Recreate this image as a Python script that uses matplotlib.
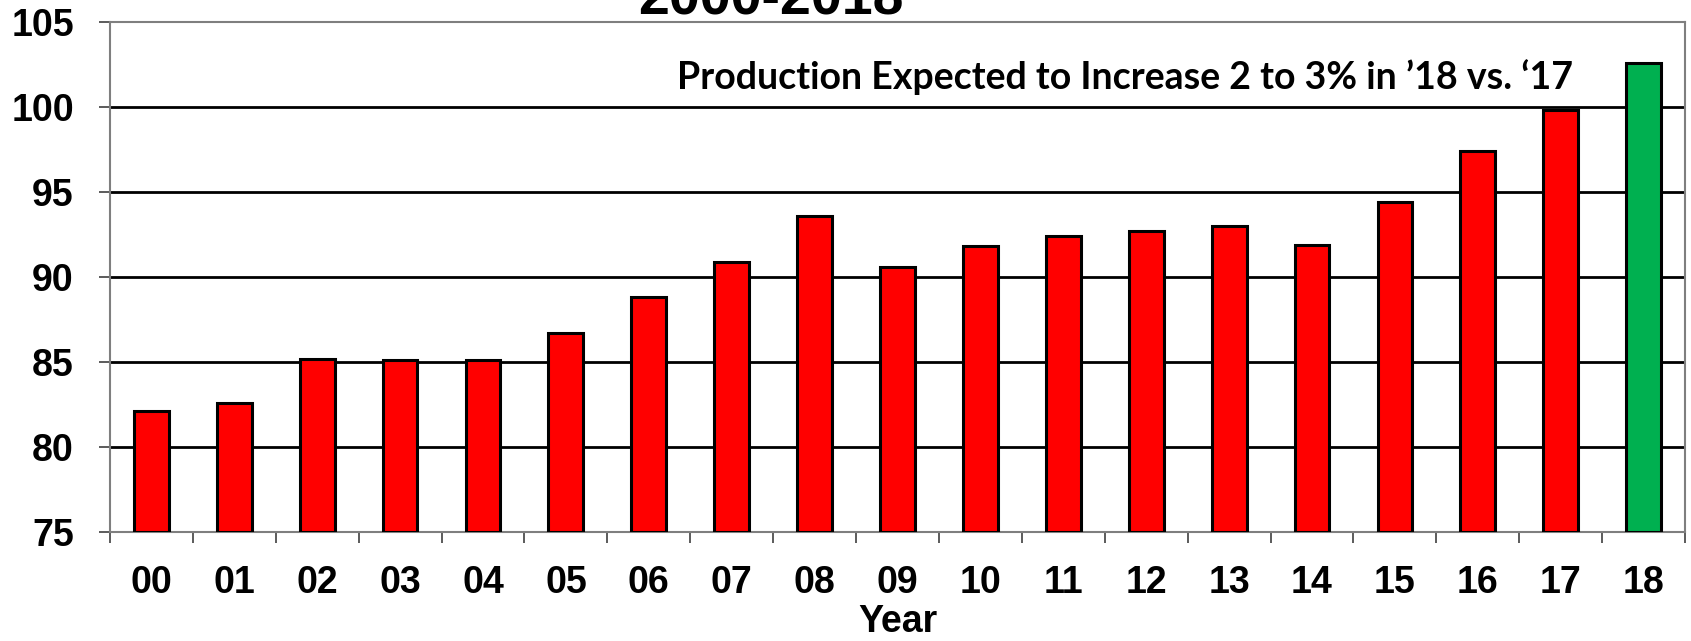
import numpy as np
import matplotlib
matplotlib.use("Agg")
from matplotlib import pyplot as plt
from matplotlib.ticker import FixedLocator

# production index by year, 2000-2018 (2018 = forecast)
years = ['00', '01', '02', '03', '04', '05', '06', '07', '08', '09',
         '10', '11', '12', '13', '14', '15', '16', '17', '18']
values = [82.1, 82.6, 85.2, 85.1, 85.1, 86.7, 88.8, 90.9, 93.6, 90.6,
          91.8, 92.4, 92.7, 93.0, 91.9, 94.4, 97.4, 99.8, 102.6]
colors = ['#FF0000'] * 18 + ['#00B050']
y_ticks = [75, 80, 85, 90, 95, 100, 105]

plt.rcParams['font.family'] = ['Liberation Sans', 'DejaVu Sans']
plt.rcParams['font.weight'] = 'bold'

fig = plt.figure(figsize=(16.91, 6.41), dpi=100)
ax = fig.add_axes([0.065, 0.170, 0.9315, 0.7957])

x = np.arange(len(years))
ax.bar(x, [v - 75 for v in values], bottom=75, width=0.42, color=colors,
       edgecolor='black', linewidth=2.2, zorder=3)

ax.set_xlim(-0.5, len(years) - 0.5)
ax.set_ylim(75, 105)
ax.set_yticks(y_ticks)
ax.set_yticklabels([str(t) for t in y_ticks], fontsize=27, fontweight='bold')

for t in y_ticks[1:-1]:
    ax.axhline(t, color='black', linewidth=2, zorder=1)

ax.set_xticks(x)
ax.set_xticklabels(years, fontsize=27, fontweight='bold')
ax.tick_params(axis='x', which='major', length=0, pad=24)
ax.xaxis.set_minor_locator(FixedLocator(np.arange(-0.5, len(years), 1.0)))
ax.tick_params(axis='x', which='minor', length=8, width=1.2, color='#404040',
               direction='out')
ax.tick_params(axis='y', length=8, width=1.2, color='#404040', pad=18)

for side in ['left', 'right', 'top', 'bottom']:
    ax.spines[side].set_color('#7f7f7f')
    ax.spines[side].set_linewidth(1.5)

ax.set_xlabel('Year', fontsize=27, fontweight='bold', labelpad=2)

ax.text(11.74, 101.75, 'Production Expected to Increase 2 to 3% in \u201918 vs. \u201817',
        ha='center', va='center', fontsize=27, fontweight='bold',
        family=['Lato', 'DejaVu Sans'], zorder=4)

fig.text(0.456, 0.978, '2000-2018', ha='center', va='baseline',
         fontsize=40, fontweight='bold')

fig.savefig('out.png', dpi=100)
